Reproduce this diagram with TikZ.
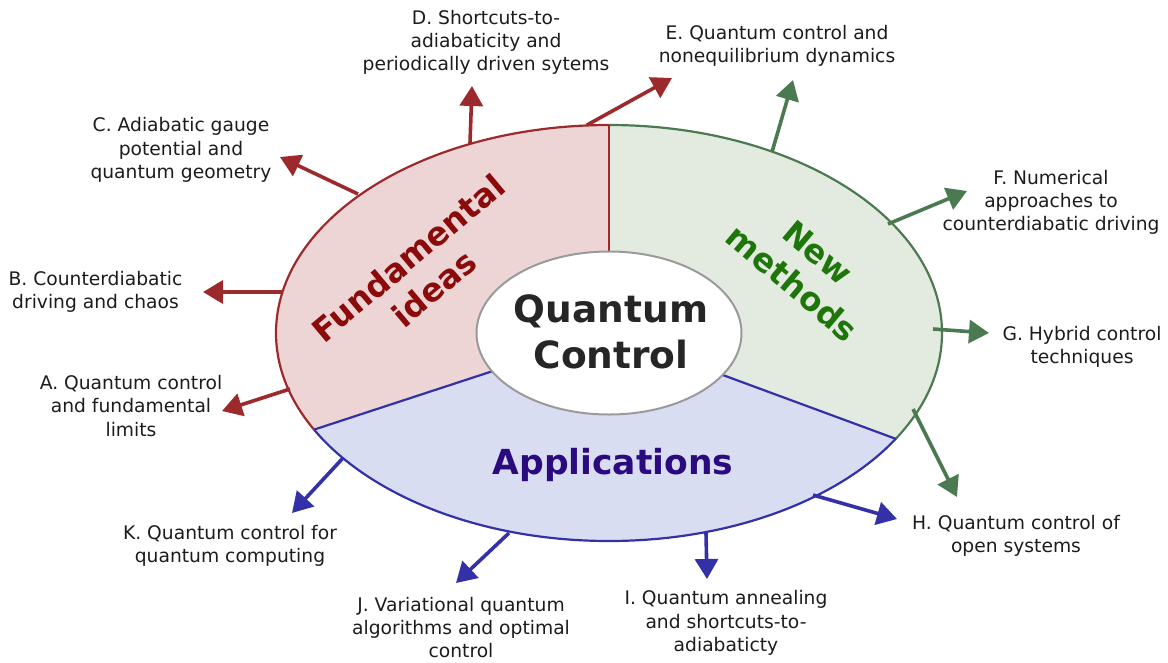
\documentclass[tikz,border=0pt]{standalone}
\usepackage{fontspec}
\setmainfont{DejaVu Sans}
\usetikzlibrary{arrows.meta}
\definecolor{redfill}{HTML}{EDD5D6}
\definecolor{redline}{HTML}{9C2A2C}
\definecolor{redtext}{HTML}{8B0A0A}
\definecolor{greenfill}{HTML}{E3EBE0}
\definecolor{greenline}{HTML}{4B7A51}
\definecolor{greentext}{HTML}{1E760A}
\definecolor{bluefill}{HTML}{D8DDF2}
\definecolor{blueline}{HTML}{3431A8}
\definecolor{bluetext}{HTML}{2B0A80}
\definecolor{innerline}{HTML}{9A9A9A}
\definecolor{txt}{HTML}{1C1C1C}
\definecolor{titletxt}{HTML}{262626}
\begin{document}
\begin{tikzpicture}[x=1pt,y=-1pt,
  lab/.style={font=\fontsize{18.7}{23.2}\selectfont, align=center, inner sep=0pt, text=txt},
  sector/.style={font=\bfseries\fontsize{34.5}{42}\selectfont, align=center, inner sep=0pt},
  tilted/.style={sector, font=\bfseries\fontsize{32.5}{40}\selectfont},
  rim/.style={line width=2.2pt},
  arr/.style={line width=3.6pt, -{Triangle[length=20pt,width=23pt]}},
  redarrow/.style={arr, draw=redline, fill=redline},
  greenarrow/.style={arr, draw=greenline, fill=greenline},
  bluearrow/.style={arr, draw=blueline, fill=blueline}]
\useasboundingbox (0,0) rectangle (1168,662);
% geometry
\coordinate (c) at (609,333);
\coordinate (top) at (609,-400);
\coordinate (tl) at (-400,-400);
\coordinate (ll) at (-400,663.6);
\coordinate (tr) at (1600,-400);
\coordinate (lr) at (1600,698.7);
\coordinate (bl) at (-400,1400);
\coordinate (br) at (1600,1400);
\coordinate (dtop) at (609,125);
\coordinate (dleft) at (314.1,429.6);
\coordinate (dright) at (895.7,438.8);
% red sector
\begin{scope}
  \clip (c) -- (top) -- (tl) -- (ll) -- cycle;
  \fill[redfill] (c) ellipse [x radius=333pt, y radius=208pt];
  \draw[rim, redline] (c) ellipse [x radius=333pt, y radius=208pt];
\end{scope}
% green sector
\begin{scope}
  \clip (c) -- (top) -- (tr) -- (lr) -- cycle;
  \fill[greenfill] (c) ellipse [x radius=333pt, y radius=208pt];
  \draw[rim, greenline] (c) ellipse [x radius=333pt, y radius=208pt];
\end{scope}
% blue sector
\begin{scope}
  \clip (c) -- (ll) -- (bl) -- (br) -- (lr) -- cycle;
  \fill[bluefill] (c) ellipse [x radius=333pt, y radius=208pt];
  \draw[rim, blueline] (c) ellipse [x radius=333pt, y radius=208pt];
\end{scope}
% dividers
\draw[rim, redline] (c) -- (dtop);
\draw[rim, blueline] (c) -- (dleft);
\draw[rim, blueline] (c) -- (dright);
% inner ellipse
\draw[line width=2pt, innerline, fill=white] (c) ellipse [x radius=132.5pt, y radius=81.5pt];
\node[font=\bfseries\fontsize{37.5}{46}\selectfont, align=center, inner sep=0pt, text=titletxt] (qc) at (611,332) {Quantum\\Control};
% sector labels
\node[tilted, text=redtext, rotate=40] (fund) at (421,273) {Fundamental\\ideas};
\node[tilted, text=greentext, rotate=-40] (newm) at (805,268) {New\\methods};
\node[sector, text=bluetext] (appl) at (613,465) {Applications};
% arrow coordinates
\coordinate (sA) at (290,389); \coordinate (eA) at (222,411);
\coordinate (sB) at (283,292); \coordinate (eB) at (203,292);
\coordinate (sC) at (358,194); \coordinate (eC) at (280,157);
\coordinate (sD) at (470,143); \coordinate (eD) at (472,86);
\coordinate (sE1) at (587,125); \coordinate (eE1) at (672,78);
\coordinate (sE2) at (772,152); \coordinate (eE2) at (793,80);
\coordinate (sF) at (888,224); \coordinate (eF) at (967,191);
\coordinate (sG) at (933,329); \coordinate (eG) at (989,333);
\coordinate (sH1) at (913,409); \coordinate (eH1) at (957,497);
\coordinate (sH2) at (813,495); \coordinate (eH2) at (897,519);
\coordinate (sI) at (706,533); \coordinate (eI) at (707,579);
\coordinate (sJ) at (509,533); \coordinate (eJ) at (456,583);
\coordinate (sK) at (343,458); \coordinate (eK) at (292,513);
\draw[redarrow] (sA) -- (eA);
\draw[redarrow] (sB) -- (eB);
\draw[redarrow] (sC) -- (eC);
\draw[redarrow] (sD) -- (eD);
\draw[redarrow] (sE1) -- (eE1);
\draw[greenarrow] (sE2) -- (eE2);
\draw[greenarrow] (sF) -- (eF);
\draw[greenarrow] (sG) -- (eG);
\draw[greenarrow] (sH1) -- (eH1);
\draw[bluearrow] (sH2) -- (eH2);
\draw[bluearrow] (sI) -- (eI);
\draw[bluearrow] (sJ) -- (eJ);
\draw[bluearrow] (sK) -- (eK);
% labels
\node[lab] (tA) at (131,406) {A. Quantum control\\and fundamental\\limits};
\node[lab] (tB) at (95.5,292) {B. Counterdiabatic\\driving and chaos};
\node[lab] (tC) at (181,150) {C. Adiabatic gauge\\potential and\\quantum geometry};
\node[lab] (tD) at (486,42.5) {D. Shortcuts-to-\\adiabaticity and\\periodically driven sytems};
\node[lab] (tE) at (777,46) {E. Quantum control and\\nonequilibrium dynamics};
\node[lab] (tF) at (1051,202.5) {F. Numerical\\approaches to\\counterdiabatic driving};
\node[lab] (tG) at (1082,346.5) {G. Hybrid control\\techniques};
\node[lab] (tH) at (1016,536) {H. Quantum control of\\open systems};
\node[lab] (tI) at (726,623) {I. Quantum annealing\\and shortcuts-to-\\adiabaticty};
\node[lab] (tJ) at (461,627.5) {J. Variational quantum\\algorithms and optimal\\control};
\node[lab] (tK) at (230,545.5) {K. Quantum control for\\quantum computing};
\end{tikzpicture}
\end{document}
